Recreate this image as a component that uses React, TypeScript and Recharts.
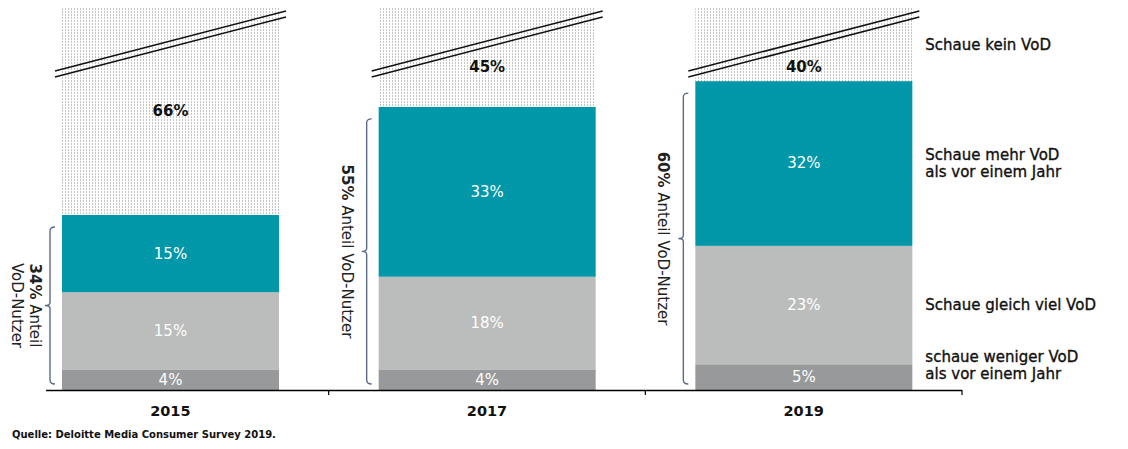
import React from 'react';
import { BarChart, Bar, XAxis, YAxis } from 'recharts';

// ---- data ----
const years = ['2015', '2017', '2019'];
const lessValues = [4, 4, 5];
const sameValues = [15, 18, 23];
const moreValues = [15, 33, 32];
const noneValues = [66, 45, 40];
const userShareValues = [34, 55, 60];

const noneLegend = ['Schaue kein VoD'];
const moreLegend = ['Schaue mehr VoD', 'als vor einem Jahr'];
const sameLegend = ['Schaue gleich viel VoD'];
const lessLegend = ['schaue weniger VoD', 'als vor einem Jahr'];
const shareWord = 'Anteil';
const shareTail = 'VoD-Nutzer';
const sourceNote = 'Quelle: Deloitte Media Consumer Survey 2019.';

// visible part of the (broken) value axis
const Y_MAX = 74.2;

const data = years.map((year, i) => ({
  year,
  less: lessValues[i],
  same: sameValues[i],
  more: moreValues[i],
  none: noneValues[i],
  share: userShareValues[i],
}));

// ---- layout ----
const CHART_W = 1112;
const CHART_H = 433;
const PLOT_BOTTOM = 382;
const PAD_L = 4;
const PAD_R = 158;
const BAR_SIZE = 217;
const BAND = (CHART_W - PAD_L - PAD_R) / years.length;
const LAST = years.length - 1;
const FONT = "'DejaVu Sans', Verdana, sans-serif";

const C_LESS = '#97999B';
const C_SAME = '#BBBCBC';
const C_MORE = '#0097A9';
const C_BRACKET = '#5B6B86';

const LINE_H = 17;

function legendBlock(lines: string[], x: number, top: number, bottom: number) {
  let c = (Math.max(top, 0) + bottom) / 2;
  c = Math.min(c, PLOT_BOTTOM - 8 - (lines.length * LINE_H) / 2);
  const first = c - ((lines.length - 1) * LINE_H) / 2;
  return (
    <g>
      {lines.map((t, k) => (
        <text
          key={k}
          x={x + 13}
          y={first + k * LINE_H}
          dominantBaseline="central"
          fontSize={15}
          fill="#111"
          stroke="#111"
          strokeWidth={0.35}
        >
          {t}
        </text>
      ))}
    </g>
  );
}

function valueText(x: number, y: number, w: number, h: number, v: number) {
  return (
    <text
      x={x + w / 2}
      y={y + h / 2}
      textAnchor="middle"
      dominantBaseline="central"
      fontSize={15}
      fill="#fff"
    >
      {v}%
    </text>
  );
}

const makeSegment = (key: 'less' | 'same', color: string, legend: string[]) => (props: any) => {
  const { x, y, width, height, index, payload } = props;
  return (
    <g>
      <rect x={x} y={y} width={width} height={height} fill={color} />
      {valueText(x, y, width, height, payload[key])}
      {index === LAST ? legendBlock(legend, x + width, y, y + height) : null}
    </g>
  );
};

const MoreShape = (props: any) => {
  const { x, y, width, height, index, payload } = props;
  const bx = x - 12;
  const top = y + 12;
  const bottom = PLOT_BOTTOM - 6;
  const mid = (top + bottom) / 2;
  const path = `M ${bx + 5} ${top} Q ${bx} ${top} ${bx} ${top + 4} L ${bx} ${mid - 3} Q ${bx} ${mid} ${bx - 5} ${mid} Q ${bx} ${mid} ${bx} ${mid + 3} L ${bx} ${bottom - 4} Q ${bx} ${bottom} ${bx + 5} ${bottom}`;
  const twoLines = bottom - top < 200;
  const rot = (cx: number, content: React.ReactNode, k: number) => (
    <text
      key={k}
      x={cx}
      y={mid}
      transform={`rotate(90, ${cx}, ${mid})`}
      textAnchor="middle"
      dominantBaseline="central"
      fontSize={15}
      fill="#222"
    >
      {content}
    </text>
  );
  return (
    <g>
      <rect x={x} y={y} width={width} height={height} fill={C_MORE} />
      {valueText(x, y, width, height, payload.more)}
      <path d={path} fill="none" stroke={C_BRACKET} strokeWidth={1.4} />
      {twoLines
        ? [
            rot(bx - 15, <><tspan fontWeight="bold">{payload.share}%</tspan> {shareWord}</>, 0),
            rot(bx - 33, <>{shareTail}</>, 1),
          ]
        : rot(bx - 20, <><tspan fontWeight="bold">{payload.share}%</tspan> {shareWord} {shareTail}</>, 0)}
      {index === LAST ? legendBlock(moreLegend, x + width, y, y + height) : null}
    </g>
  );
};

const NoneShape = (props: any) => {
  const { x, y, width, height, index, payload } = props;
  const bottom = y + height;
  const top = Math.max(y, 0);
  const labelY = Math.max((top + bottom) / 2, 59);
  const l = x - 7;
  const r = x + width + 7;
  return (
    <g>
      <rect x={x} y={y} width={width} height={height} fill="url(#dotFill)" />
      <line x1={l} y1={63} x2={r} y2={3} stroke="#111" strokeWidth={1.5} />
      <line x1={l} y1={69} x2={r} y2={9} stroke="#111" strokeWidth={1.5} />
      <text
        x={x + width / 2}
        y={labelY}
        textAnchor="middle"
        dominantBaseline="central"
        fontSize={15}
        fontWeight="bold"
        fill="#111"
      >
        {payload.none}%
      </text>
      {index === LAST ? legendBlock(noneLegend, x + width, y, bottom) : null}
    </g>
  );
};

const YearTick = (props: any) => {
  const { x, payload, index } = props;
  const half = BAND / 2;
  const left = x - half;
  const right = x + half;
  const start = index === 0 ? left + 34 : left;
  return (
    <g>
      <line x1={start} x2={right} y1={PLOT_BOTTOM + 0.5} y2={PLOT_BOTTOM + 0.5} stroke="#000" strokeWidth={1.3} />
      <line x1={right} x2={right} y1={PLOT_BOTTOM} y2={PLOT_BOTTOM + 5} stroke="#000" strokeWidth={1.2} />
      <text
        x={x}
        y={PLOT_BOTTOM + 20.5}
        textAnchor="middle"
        dominantBaseline="central"
        fontSize={14.5}
        fontWeight="bold"
        fill="#111"
      >
        {payload.value}
      </text>
    </g>
  );
};

export default function App() {
  return (
    <div style={{ position: 'relative', width: CHART_W, height: CHART_H, fontFamily: FONT }}>
      <BarChart
        width={CHART_W}
        height={CHART_H}
        data={data}
        margin={{ top: 0, right: 0, bottom: 0, left: 0 }}
        barSize={BAR_SIZE}
      >
        <defs>
          <pattern id="dotFill" width={3} height={3} patternUnits="userSpaceOnUse">
            <rect width={3} height={3} fill="#fff" />
            <rect x={0} y={0} width={1} height={2} fill="#c4c4c4" />
          </pattern>
        </defs>
        <XAxis
          dataKey="year"
          axisLine={false}
          tickLine={false}
          interval={0}
          height={CHART_H - PLOT_BOTTOM}
          padding={{ left: PAD_L, right: PAD_R }}
          tick={(p: any) => <YearTick {...p} />}
        />
        <YAxis hide type="number" domain={[0, Y_MAX]} allowDataOverflow />
        <Bar dataKey="less" stackId="s" fill={C_LESS} isAnimationActive={false} shape={makeSegment('less', C_LESS, lessLegend)} />
        <Bar dataKey="same" stackId="s" fill={C_SAME} isAnimationActive={false} shape={makeSegment('same', C_SAME, sameLegend)} />
        <Bar dataKey="more" stackId="s" fill={C_MORE} isAnimationActive={false} shape={MoreShape} />
        <Bar dataKey="none" stackId="s" fill="#ddd" isAnimationActive={false} shape={NoneShape} />
      </BarChart>
      <div
        style={{
          position: 'absolute',
          left: 4,
          top: 421,
          fontSize: 10,
          lineHeight: '12px',
          fontWeight: 'bold',
          color: '#111',
          whiteSpace: 'nowrap',
        }}
      >
        {sourceNote}
      </div>
    </div>
  );
}
